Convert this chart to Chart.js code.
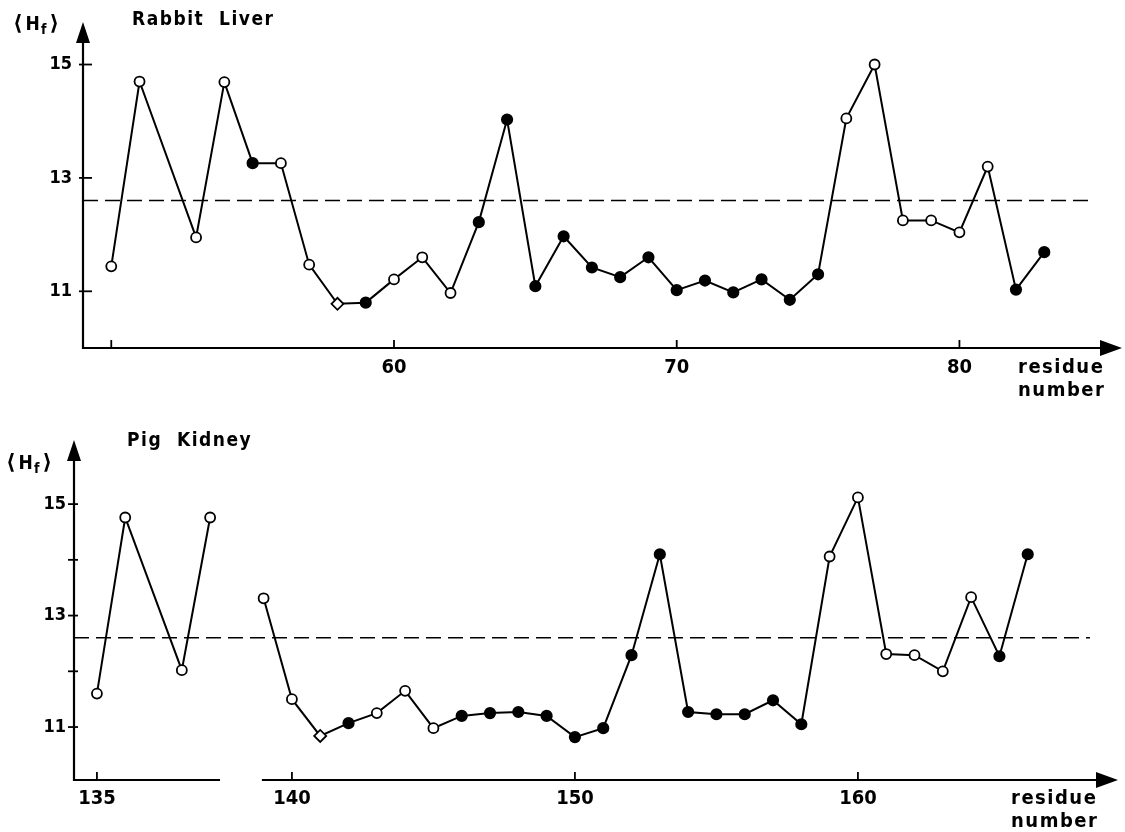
<!DOCTYPE html>
<html>
<head>
<meta charset="utf-8">
<script src="https://cdn.jsdelivr.net/npm/chart.js@4.4.1/dist/chart.umd.min.js"></script>
<style>
  html, body { margin: 0; padding: 0; background: #fff; }
  canvas { position: absolute; left: 0; }
  #liverChart { top: 0; }
  #kidneyChart { top: 410px; }
</style>
</head>
<body>
<canvas id="liverChart" width="1125" height="410"></canvas>
<canvas id="kidneyChart" width="1125" height="422"></canvas>
<script>
// o = open circle, f = filled circle, d = open diamond
const liverResidues = [50, 51, 53, 54, 55, 56, 57, 58, 59, 60, 61, 62, 63, 64, 65, 66, 67,
  68, 69, 70, 71, 72, 73, 74, 75, 76, 77, 78, 79, 80, 81, 82, 83];
const liverValues = [11.44, 14.70, 11.95, 14.69, 13.26, 13.26, 11.47, 10.78, 10.80, 11.21, 11.60,
  10.97, 12.22, 14.03, 11.09, 11.97, 11.42, 11.25, 11.60, 11.02, 11.19, 10.98, 11.21, 10.85,
  11.30, 14.05, 15.00, 12.25, 12.25, 12.04, 13.20, 11.03, 11.69];
const liverMarkers = ['o', 'o', 'o', 'o', 'f', 'o', 'o', 'd', 'f', 'o', 'o', 'o', 'f', 'f', 'f', 'f', 'f',
  'f', 'f', 'f', 'f', 'f', 'f', 'f', 'f', 'o', 'o', 'o', 'o', 'o', 'o', 'f', 'f'];

// pig kidney: short piece left of the axis break
const kidneyLeftResidues = [135, 136, 138, 139];
const kidneyLeftValues = [11.60, 14.76, 12.02, 14.76];
const kidneyLeftMarkers = ['o', 'o', 'o', 'o'];

const kidneyResidues = [139, 140, 141, 142, 143, 144, 145, 146, 147, 148, 149, 150, 151, 152,
  153, 154, 155, 156, 157, 158, 159, 160, 161, 162, 163, 164, 165, 166];
const kidneyValues = [13.31, 11.50, 10.84, 11.07, 11.25, 11.65, 10.98, 11.20, 11.25, 11.27, 11.20,
  10.82, 10.98, 12.29, 14.10, 11.27, 11.23, 11.23, 11.48, 11.05, 14.06, 15.12, 12.31, 12.29,
  12.00, 13.33, 12.27, 14.10];
const kidneyMarkers = ['o', 'o', 'd', 'f', 'o', 'o', 'o', 'f', 'f', 'f', 'f', 'f', 'f', 'f',
  'f', 'f', 'f', 'f', 'f', 'f', 'o', 'o', 'o', 'o', 'o', 'o', 'f', 'f'];

const meanHf = 12.6;
const yTickValues = [11, 13, 15];
const kidneyMinorYTicks = [12, 14];
const liverXTicks = [50, 60, 70, 80];
const liverXLabels = ['', '60', '70', '80'];
const kidneyXTicks = [140, 150, 160];
const kidneyLeftXTicks = [135];

const markerStyles = {
  o: { style: 'circle', fill: '#fff', radius: 5 },
  f: { style: 'circle', fill: '#000', radius: 5.2 },
  d: { style: 'rectRot', fill: '#fff', radius: 6 }
};

const fam = '"DejaVu Sans Condensed", "DejaVu Sans"';
const xTickFont = 'bold 20px ' + fam;
const yTickFont = 'bold 18px ' + fam;
const titleFont = 'bold 19px ' + fam;
const bracketFont = 'bold 21px "DejaVu Sans"';

function seriesDataset(xs, ys, markers, xAxisID) {
  return {
    data: xs.map((x, i) => ({ x: x, y: ys[i] })),
    xAxisID: xAxisID,
    borderColor: '#000',
    borderWidth: 2,
    pointStyle: markers.map(m => markerStyles[m].style),
    pointRadius: markers.map(m => markerStyles[m].radius),
    pointBackgroundColor: markers.map(m => markerStyles[m].fill),
    pointBorderColor: '#000',
    pointBorderWidth: 1.8,
    tension: 0,
    clip: false
  };
}

function meanDataset(from, to) {
  return {
    data: [{ x: from, y: meanHf }, { x: to, y: meanHf }],
    borderColor: '#000',
    borderWidth: 1.5,
    borderDash: [15, 7],
    pointRadius: 0,
    clip: false
  };
}

// <Hf> axis title
function drawHf(ctx, x, y) {
  ctx.textBaseline = 'middle';
  ctx.textAlign = 'left';
  ctx.font = bracketFont;
  ctx.fillText('⟨', x, y);
  x += ctx.measureText('⟨').width + 3;
  ctx.font = titleFont;
  ctx.fillText('H', x, y);
  x += ctx.measureText('H').width + 1;
  ctx.font = 'bold 14px ' + fam;
  ctx.fillText('f', x, y + 5);
  x += ctx.measureText('f').width + 3;
  ctx.font = bracketFont;
  ctx.fillText('⟩', x, y);
}

// axes with arrows, inward ticks, labels
function axesPlugin(cfg) {
  return {
    id: 'axes',
    beforeDatasetsDraw(chart) {
      const ctx = chart.ctx;
      const area = chart.chartArea;
      const ys = chart.scales.y;
      ctx.save();
      ctx.strokeStyle = '#000';
      ctx.fillStyle = '#000';
      ctx.lineWidth = 2.2;
      ctx.lineCap = 'butt';

      ctx.beginPath();
      ctx.moveTo(area.left, area.bottom + 1);
      ctx.lineTo(area.left, area.top + 18);
      ctx.stroke();
      ctx.beginPath();
      ctx.moveTo(area.left, area.top);
      ctx.lineTo(area.left - 7, area.top + 21);
      ctx.lineTo(area.left + 7, area.top + 21);
      ctx.closePath();
      ctx.fill();

      cfg.xSegments(chart).forEach(seg => {
        ctx.beginPath();
        ctx.moveTo(seg[0], area.bottom);
        ctx.lineTo(seg[1], area.bottom);
        ctx.stroke();
      });
      ctx.beginPath();
      ctx.moveTo(area.right, area.bottom);
      ctx.lineTo(area.right - 22, area.bottom - 8);
      ctx.lineTo(area.right - 22, area.bottom + 8);
      ctx.closePath();
      ctx.fill();

      ctx.lineWidth = 1.8;
      cfg.yTicks.concat(cfg.yMinor || []).forEach(v => {
        const py = ys.getPixelForValue(v);
        ctx.beginPath();
        ctx.moveTo(area.left - cfg.yTickOut, py);
        ctx.lineTo(area.left + cfg.yTickIn, py);
        ctx.stroke();
      });
      cfg.xTicks.forEach(t => {
        const px = chart.scales[t.axis].getPixelForValue(t.value);
        ctx.beginPath();
        ctx.moveTo(px, area.bottom);
        ctx.lineTo(px, area.bottom - 8);
        ctx.stroke();
      });
      ctx.restore();
    },
    afterDraw(chart) {
      const ctx = chart.ctx;
      const area = chart.chartArea;
      const ys = chart.scales.y;
      ctx.save();
      ctx.fillStyle = '#000';
      ctx.textBaseline = 'middle';
      ctx.textAlign = 'right';
      ctx.font = yTickFont;
      cfg.yTicks.forEach(v => {
        ctx.fillText(String(v), area.left - cfg.yLabelGap, ys.getPixelForValue(v));
      });
      ctx.textAlign = 'center';
      ctx.font = xTickFont;
      cfg.xTicks.forEach(t => {
        if (!t.label) return;
        const px = chart.scales[t.axis].getPixelForValue(t.value);
        ctx.fillText(t.label, px, area.bottom + cfg.xLabelGap);
      });
      ctx.textAlign = 'left';
      ctx.letterSpacing = '1.5px';
      ctx.fillText('residue', cfg.residueX, area.bottom + cfg.xLabelGap);
      ctx.fillText('number', cfg.residueX, area.bottom + cfg.xLabelGap + 23);
      ctx.font = titleFont;
      ctx.fillText(cfg.title, cfg.titleX, cfg.titleY);
      ctx.letterSpacing = '0px';
      drawHf(ctx, cfg.hfX, cfg.hfY);
      ctx.restore();
    }
  };
}

function baseOptions(padding, scales) {
  return {
    responsive: false,
    animation: false,
    devicePixelRatio: 1,
    events: [],
    layout: { padding: padding, autoPadding: false },
    plugins: { legend: { display: false }, tooltip: { enabled: false } },
    scales: scales
  };
}

new Chart(document.getElementById('liverChart'), {
  type: 'line',
  data: {
    datasets: [
      seriesDataset(liverResidues, liverValues, liverMarkers, 'x'),
      meanDataset(49, 84.7)
    ]
  },
  options: baseOptions({ left: 83, right: 3, top: 22, bottom: 62 }, {
    x: { type: 'linear', display: false, min: 49, max: 85.75 },
    y: { type: 'linear', display: false, min: 10, max: 15.75 }
  }),
  plugins: [axesPlugin({
    xSegments: c => [[c.chartArea.left - 1, c.chartArea.right - 18]],
    yTicks: yTickValues,
    yTickOut: 4, yTickIn: 9, yLabelGap: 11,
    xTicks: liverXTicks.map((v, i) => ({ value: v, label: liverXLabels[i], axis: 'x' })),
    xLabelGap: 20,
    residueX: 1018,
    title: 'Rabbit  Liver', titleX: 132, titleY: 20,
    hfX: 13, hfY: 25
  })]
});

new Chart(document.getElementById('kidneyChart'), {
  type: 'line',
  data: {
    datasets: [
      seriesDataset(kidneyLeftResidues, kidneyLeftValues, kidneyLeftMarkers, 'xl'),
      seriesDataset(kidneyResidues, kidneyValues, kidneyMarkers, 'x'),
      meanDataset(132.3, 168.2)
    ]
  },
  options: baseOptions({ left: 74, right: 7, top: 30, bottom: 52 }, {
    x: { type: 'linear', display: false, min: 132.3, max: 169.19 },
    xl: { type: 'linear', axis: 'x', display: false, min: 134.19, max: 171.08 },
    y: { type: 'linear', display: false, min: 10.05, max: 16.15 }
  }),
  plugins: [axesPlugin({
    xSegments: c => [
      [c.chartArea.left - 1, c.scales.xl.getPixelForValue(139.35)],
      [c.scales.x.getPixelForValue(138.94), c.chartArea.right - 18]
    ],
    yTicks: yTickValues,
    yMinor: kidneyMinorYTicks,
    yTickOut: 6, yTickIn: 4, yLabelGap: 8,
    xTicks: kidneyLeftXTicks.map(v => ({ value: v, label: String(v), axis: 'xl' }))
      .concat(kidneyXTicks.map(v => ({ value: v, label: String(v), axis: 'x' }))),
    xLabelGap: 19,
    residueX: 1011,
    title: 'Pig  Kidney', titleX: 127, titleY: 31,
    hfX: 6, hfY: 54
  })]
});
</script>
</body>
</html>
